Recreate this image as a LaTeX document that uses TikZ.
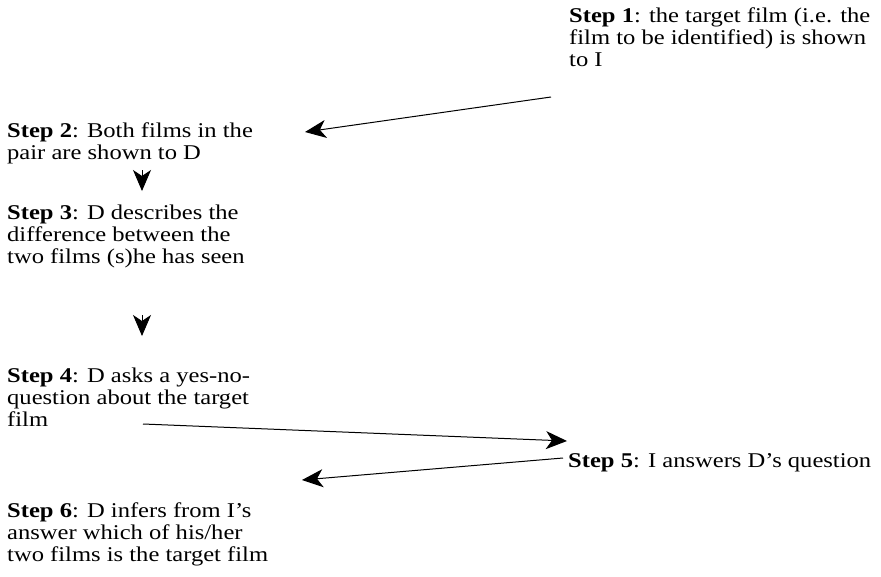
\documentclass[tikz,border=0pt]{standalone}
\usepackage{fontspec}
\setmainfont[FakeStretch=1.17]{Liberation Serif}
\usetikzlibrary{arrows.meta}
\newcommand{\steplines}[1]{\begin{tabular}[t]{@{}l@{}}#1\end{tabular}}
\begin{document}
\begin{tikzpicture}[x=1pt,y=-1pt,
  steptext/.style={anchor=base west, inner sep=0pt, font=\fontsize{21}{22}\selectfont},
  conn/.style={line width=1pt, -{Stealth[length=21pt,width=18pt,inset=6pt]}}]
\fill[white] (0,0) rectangle (881,576);
\useasboundingbox (0,0) rectangle (881,576);
\node[steptext] (s1) at (569,22) {\steplines{\textbf{Step 1}: the target film (i.e. the\\ film to be identified) is shown\\ to I}};
\node[steptext] (s2) at (7,137) {\steplines{\textbf{Step 2}: Both films in the\\ pair are shown to D}};
\node[steptext] (s3) at (7,219) {\steplines{\textbf{Step 3}: D describes the\\ difference between the\\ two films (s)he has seen}};
\node[steptext] (s4) at (7,382) {\steplines{\textbf{Step 4}: D asks a yes-no-\\ question about the target\\ film}};
\node[steptext] (s5) at (568,467) {\steplines{\textbf{Step 5}: I answers D's question}};
\node[steptext] (s6) at (7,517) {\steplines{\textbf{Step 6}: D infers from I's\\ answer which of his/her\\ two films is the target film}};
\coordinate (a1from) at (551,97);
\coordinate (a1to) at (305,132);
\coordinate (a2from) at (142,170);
\coordinate (a2to) at (142,191);
\coordinate (a3from) at (142,315);
\coordinate (a3to) at (142,336);
\coordinate (a4from) at (143,424);
\coordinate (a4to) at (567,441);
\coordinate (a5from) at (563,458);
\coordinate (a5to) at (302,480);
\draw[conn] (a1from) -- (a1to);
\draw[conn] (a2from) -- (a2to);
\draw[conn] (a3from) -- (a3to);
\draw[conn] (a4from) -- (a4to);
\draw[conn] (a5from) -- (a5to);
\end{tikzpicture}
\end{document}
